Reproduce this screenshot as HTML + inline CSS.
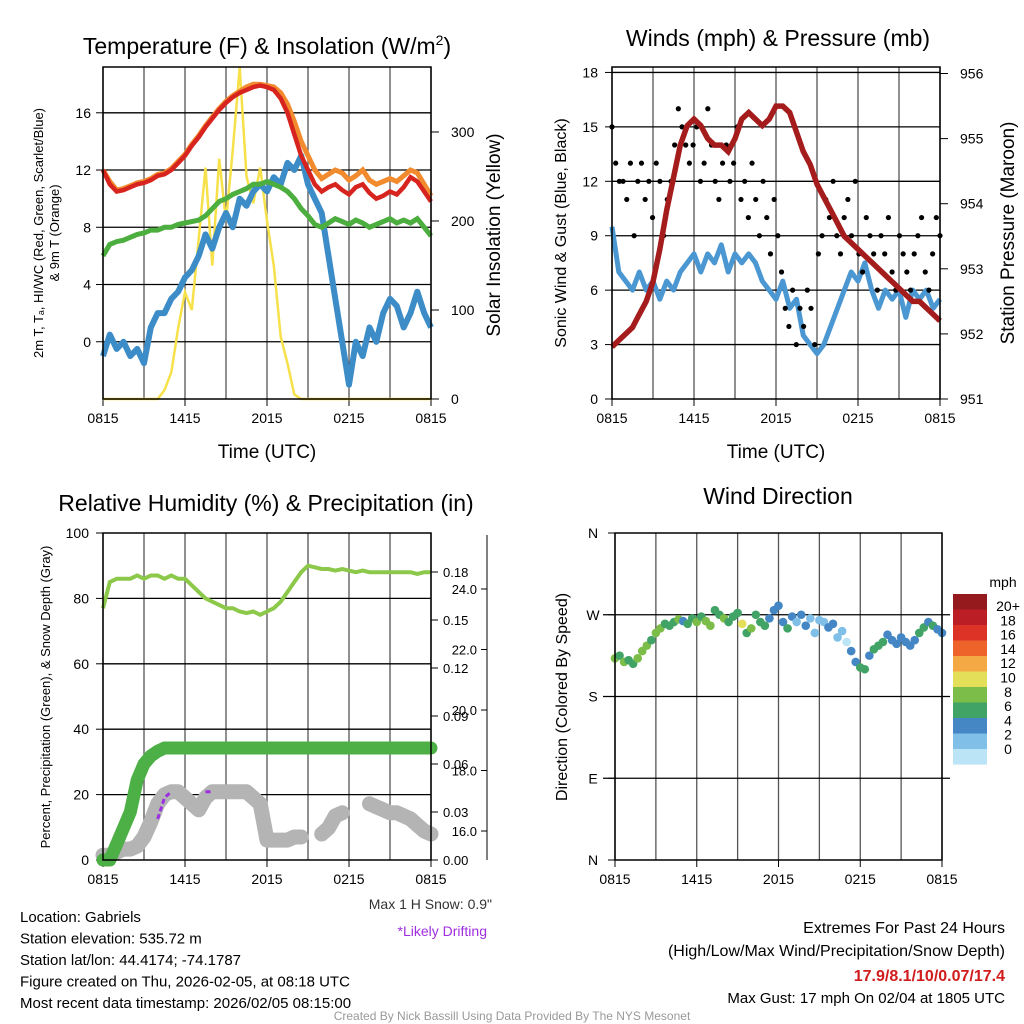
<!DOCTYPE html>
<html><head><meta charset="utf-8"><style>
body{margin:0;background:#fff;}
svg{display:block;font-family:"Liberation Sans",sans-serif;}
</style></head><body>
<svg id="c" width="1024" height="1024" viewBox="0 0 1024 1024"></svg>
<script>
// ---------- DATA (uniformly spaced over 24 h, 0815 -> 0815) ----------
const xTickLabels = ["0815","1415","2015","0215","0815"];
const tempRed = [12,11,10.5,10.6,10.8,11,11.1,11.3,11.6,11.7,12,12.5,13,13.7,14.3,15,15.6,16.2,16.7,17.1,17.4,17.6,17.8,17.9,17.8,17.6,17,16,14.5,13,12,11,10.5,10.8,11,10.6,10.3,10.8,11,10.4,10,10.2,10.5,10.3,10.8,11.5,11.2,10.5,9.8];
const tempOrange = [12,11.2,10.6,10.7,10.9,11.1,11.2,11.4,11.7,11.8,12.1,12.6,13.1,13.8,14.4,15.1,15.7,16.3,16.8,17.2,17.5,17.8,18,18,17.9,17.8,17.4,16.6,15.4,14,13,12,11.4,11.7,12,11.8,11.3,11.6,12,11.3,11,11.2,11.4,11.2,11.6,12,11.8,11,10.2];
const tempGreen = [6,6.8,7,7.1,7.3,7.5,7.6,7.8,7.8,8,8,8.2,8.3,8.4,8.5,8.8,9.3,9.8,10,10.3,10.5,10.7,11,11,11.2,11,10.8,10.5,10,9.3,8.8,8.2,8,8.3,8.6,8.4,8.2,8.5,8.3,8,8.2,8.4,8.6,8.3,8.5,8.3,8.6,8,7.4];
const tempBlue = [-1,0.5,-0.5,0,-1,-0.5,-1.5,1,2,2,3,3.5,4.5,5,6,7.5,6.5,8,9,8,10,9.5,10.5,11,10.5,11.5,11,12.5,12,13,11,10,9,6,3,0,-3,0,-1,1,0,2,3,2.5,1,2,3.5,2,1];
const solar = [0,0,0,0,0,0,0,0,0,10,30,80,120,100,180,260,150,270,200,280,373,250,220,260,200,150,70,40,5,0,0,0,0,0,0,0,0,0,0,0,0,0,0,0,0,0,0,0,0];
const windSpeed = [9.5,7,6.5,6,7,6,6.5,5.5,6.5,6,7,7.5,8,7,8,7.5,8.5,7,8,7.5,8,7.5,6.5,6,5.5,6.5,5,5.5,3.5,3,2.5,3,4,5,6,7,6.5,7.5,6,5,6,5.5,6,4.5,6,5.5,6,5,5.5];
const gusts = [15,13,12,12,11,13,9,12,13,11,12,10,13,12,9,11,12,14,16,15,14,13,14,15,12,13,16,14,12,11,13,14,12,13,15,11,12,10,13,11,9,12,10,8,11,9,7,5,4,6,3,5,4,6,5,3,8,9,11,10,12,9,8,10,11,9,12,8,7,10,9,8,6,9,8,10,7,6,9,8,7,6,8,9,10,7,6,8,10,9];
const pressure = [951.8,951.9,952,952.1,952.3,952.5,952.8,953.3,953.9,954.4,954.9,955.2,955.3,955.2,955,954.9,954.9,954.8,955,955.3,955.4,955.3,955.2,955.3,955.5,955.5,955.4,955.1,954.8,954.6,954.3,954.1,953.9,953.7,953.5,953.4,953.3,953.2,953.1,953,952.9,952.8,952.7,952.6,952.5,952.5,952.4,952.3,952.2];
const humidity = [77,85,86,86,86,87,86,87,87,86,87,86,86,84,82,80,79,78,77,77,76,75.5,76,75,76,77,79,82,85,88,90,89.5,89,89,88.5,89,88.5,88,88.5,88,88,88,88,88,88,88,87.5,88,88];
const precip = [0,0,0.01,0.02,0.03,0.05,0.06,0.065,0.068,0.07,0.07,0.07,0.07,0.07,0.07,0.07,0.07,0.07,0.07,0.07,0.07,0.07,0.07,0.07,0.07,0.07,0.07,0.07,0.07,0.07,0.07,0.07,0.07,0.07,0.07,0.07,0.07,0.07,0.07,0.07,0.07,0.07,0.07,0.07,0.07,0.07,0.07,0.07,0.07];
const snowDepth = [15.2,15.2,15.3,15.4,15.4,15.5,15.8,16.3,16.9,17.2,17.3,17.3,17.1,16.9,16.7,17.1,17.3,17.3,17.3,17.3,17.3,17.3,17.1,16.9,15.7,15.7,15.7,15.7,15.8,15.8,null,null,15.9,16.1,16.5,16.6,null,null,null,16.9,16.8,16.7,16.6,16.6,16.5,16.4,16.2,16.0,15.9];
const drifting = [null,null,null,null,null,null,null,null,16.4,17.1,17.3,null,null,null,null,17.3,17.3,null,null,null,null,null,null,null,null,null,null,null,null,null,null,null,null,null,null,null,null,null,null,null,null,null,null,null,null,null,null,null,null];
const windDir = [222,225,218,220,216,222,230,236,242,250,255,260,258,262,265,263,260,266,262,268,263,258,275,270,266,262,268,272,260,250,255,270,262,258,266,275,280,262,255,268,262,270,258,266,250,264,262,256,260,245,252,240,230,218,212,210,225,232,236,240,248,242,238,245,240,236,242,250,256,262,258,254,250];
const dirSpeed = [9,7,8,7,6,8,9,8,7,9,8,7,6,7,8,5,6,7,8,7,8,9,7,6,8,7,6,7,10,7,8,6,7,6,5,4,5,4,6,5,3,4,5,3,2,3,3,4,5,2,3,1,4,5,6,7,5,6,7,6,5,4,5,4,4,5,4,6,7,5,6,4,5];
const cbLabels = ["20+","18","16","14","12","10","8","6","4","2","0"];
const cbColors = ["#951a1d","#bb1e25","#dc3326","#ee6329","#f5a945","#e4df58","#7cbc48","#41a466","#4487c4","#80bfe8","#bce4f7"];
const dirLabels = ["N","E","S","W","N"];

// ---------- helpers ----------
const svg = document.getElementById('c');
const NS = 'http://www.w3.org/2000/svg';
function el(tag, attrs, parent){const e=document.createElementNS(NS,tag);for(const k in attrs)e.setAttribute(k,attrs[k]);(parent||svg).appendChild(e);return e;}
function txt(x,y,s,size,anchor,fill,parent,name,extra){const t=el('text',Object.assign({x:x,y:y,'font-size':size,'text-anchor':anchor||'start',fill:fill||'#000'},extra||{}),parent);t.textContent=s;


return t;}
function tOf(i,n){return i*24/(n-1);}
function lin(d0,d1,r0,r1){return v=>r0+(v-d0)*(r1-r0)/(d1-d0);}
function linePath(arr,xs,ys){let d='',pen=false;arr.forEach((v,i)=>{if(v===null){pen=false;return;}d+=(pen?'L':'M')+xs(tOf(i,arr.length)).toFixed(1)+','+ys(v).toFixed(1);pen=true;});return d;}

function frame(x0,y0,x1,y1,name){
  const g=el('g',{});
  
  
  for(let k=0;k<=8;k++){const x=x0+(x1-x0)*k/8;el('line',{x1:x,y1:y0,x2:x,y2:y1,stroke:'#555','stroke-width':1.3},g);}
  const xs=lin(0,24,x0,x1);
  xTickLabels.forEach((l,k)=>{const x=x0+(x1-x0)*k/4;el('line',{x1:x,y1:y1,x2:x,y2:y1+7,stroke:'#000'},g);txt(x,y1+24,l,14,'middle','#000',g,'x-tick-label');});
  return {g,xs};
}
function box(x0,y0,x1,y1,g){el('rect',{x:x0,y:y0,width:x1-x0,height:y1-y0,fill:'none',stroke:'#000','stroke-width':1.5},g);}

// ---------- Panel 1: Temperature ----------
(function(){
  const X0=103,Y0=67,X1=431,Y1=399;
  const {g,xs}=frame(X0,Y0,X1,Y1,'temperature-panel');
  const yT=lin(-4,19.2,Y1,Y0), yS=lin(0,373,Y1,Y0);
  [0,4,8,12,16].forEach(v=>{el('line',{x1:X0,y1:yT(v),x2:X1,y2:yT(v),stroke:'#000','stroke-width':1.3},g);el('line',{x1:X0-7,y1:yT(v),x2:X0,y2:yT(v),stroke:'#000'},g);txt(X0-12,yT(v)+5,String(v),14,'end','#000',g,'y-tick-label');});
  [0,100,200,300].forEach(v=>{el('line',{x1:X1,y1:yS(v),x2:X1+8,y2:yS(v),stroke:'#000'},g);txt(X1+20,yS(v)+5,String(v),14,'start','#000',g,'y2-tick-label');});
  const s=el('path',{d:linePath(solar,xs,yS),fill:'none',stroke:'#f7e14a','stroke-width':2.5},g);
  
  
  const b=el('path',{d:linePath(tempBlue,xs,yT),fill:'none',stroke:'#3c8cc8','stroke-width':6,'stroke-linejoin':'round'},g);
  
  
  const gr=el('path',{d:linePath(tempGreen,xs,yT),fill:'none',stroke:'#4cae3e','stroke-width':5},g);
  
  
  const o=el('path',{d:linePath(tempOrange,xs,yT),fill:'none',stroke:'#f28a2e','stroke-width':5},g);
  
  
  const r=el('path',{d:linePath(tempRed,xs,yT),fill:'none',stroke:'#d7241f','stroke-width':4.5},g);
  
  
  box(X0,Y0,X1,Y1,g);
  const tt=txt(267,54,'Temperature (F) & Insolation (W/m',23,'middle','#000',g,'chart-title');
  const sup=el('tspan',{'font-size':14,dy:-9},tt);sup.textContent='2';
  const cl=el('tspan',{'font-size':23,dy:9},tt);cl.textContent=')';
  txt(267,458,'Time (UTC)',19,'middle','#000',g,'x-axis-title');
  const yl=el('text',{transform:'translate(43,233) rotate(-90)','font-size':13,'text-anchor':'middle'},g);
  
  
  yl.textContent='2m T, T\u2090, HI/WC (Red, Green, Scarlet/Blue)';
  const yl2=el('text',{transform:'translate(59,233) rotate(-90)','font-size':13,'text-anchor':'middle'},g);
  
  
  yl2.textContent='& 9m T (Orange)';
  const yr=el('text',{transform:'translate(500,235) rotate(-90)','font-size':19,'text-anchor':'middle'},g);
  
  
  yr.textContent='Solar Insolation (Yellow)';
})();

// ---------- Panel 2: Winds ----------
(function(){
  const X0=612,Y0=67,X1=940,Y1=399;
  const {g,xs}=frame(X0,Y0,X1,Y1,'winds-panel');
  const yW=lin(0,18.3,Y1,Y0), yP=lin(951,956.1,Y1,Y0);
  [3,6,9,12,15,18].forEach(v=>{el('line',{x1:X0,y1:yW(v),x2:X1,y2:yW(v),stroke:'#000','stroke-width':1.3},g);});
  [0,3,6,9,12,15,18].forEach(v=>{el('line',{x1:X0-7,y1:yW(v),x2:X0,y2:yW(v),stroke:'#000'},g);txt(X0-14,yW(v)+5,String(v),14,'end','#000',g,'y-tick-label');});
  [951,952,953,954,955,956].forEach(v=>{el('line',{x1:X1,y1:yP(v),x2:X1+8,y2:yP(v),stroke:'#000'},g);txt(X1+20,yP(v)+5,String(v),14,'start','#000',g,'y2-tick-label');});
  const w=el('path',{d:linePath(windSpeed,xs,yW),fill:'none',stroke:'#4a97d2','stroke-width':5,'stroke-linejoin':'round'},g);
  
  
  gusts.forEach((v,i)=>{const c=el('circle',{cx:xs(tOf(i,gusts.length)),cy:yW(v),r:2.6,fill:'#000'},g);
    
    });
  const p=el('path',{d:linePath(pressure,xs,yP),fill:'none',stroke:'#a51c1c','stroke-width':5.5},g);
  
  
  box(X0,Y0,X1,Y1,g);
  txt(778,46,'Winds (mph) & Pressure (mb)',23,'middle','#000',g,'chart-title');
  txt(776,458,'Time (UTC)',19,'middle','#000',g,'x-axis-title');
  const yl=el('text',{transform:'translate(566,233) rotate(-90)','font-size':16,'text-anchor':'middle'},g);
  
  
  yl.textContent='Sonic Wind & Gust (Blue, Black)';
  const yr=el('text',{transform:'translate(1014,233) rotate(-90)','font-size':19,'text-anchor':'middle'},g);
  
  
  yr.textContent='Station Pressure (Maroon)';
})();

// ---------- Panel 3: RH & Precip ----------
(function(){
  const X0=103,Y0=533,X1=431,Y1=860;
  const {g,xs}=frame(X0,Y0,X1,Y1,'humidity-panel');
  const yH=lin(0,100,Y1,Y0), yPr=lin(0,0.18,Y1,572), ySn=lin(16,24,831,589);
  [20,40,60,80].forEach(v=>{el('line',{x1:X0,y1:yH(v),x2:X1,y2:yH(v),stroke:'#000','stroke-width':1.3},g);});
  [0,20,40,60,80,100].forEach(v=>{el('line',{x1:X0-7,y1:yH(v),x2:X0,y2:yH(v),stroke:'#000'},g);txt(X0-14,yH(v)+5,String(v),14,'end','#000',g,'y-tick-label');});
  [0,0.03,0.06,0.09,0.12,0.15,0.18].forEach(v=>{el('line',{x1:X1,y1:yPr(v),x2:X1+7,y2:yPr(v),stroke:'#000'},g);txt(X1+12,yPr(v)+5,v.toFixed(2),13,'start','#000',g,'precip-tick-label');});
  el('line',{x1:487,y1:535,x2:487,y2:860,stroke:'#000'},g);
  [16,18,20,22,24].forEach(v=>{el('line',{x1:487,y1:ySn(v),x2:481,y2:ySn(v),stroke:'#000'},g);txt(477,ySn(v)+5,v.toFixed(1),13,'end','#000',g,'snow-tick-label');});
  const sn=el('path',{d:linePath(snowDepth,xs,ySn),fill:'none',stroke:'#b4b4b4','stroke-width':15,'stroke-linecap':'round','stroke-linejoin':'round'},g);
  
  
  const dr=el('path',{d:linePath(drifting,xs,ySn),fill:'none',stroke:'#9b30e0','stroke-width':3,'stroke-dasharray':'5 3'},g);
  
  
  const pr=el('path',{d:linePath(precip,xs,yPr),fill:'none',stroke:'#4cb046','stroke-width':13,'stroke-linecap':'round','stroke-linejoin':'round'},g);
  
  
  const h=el('path',{d:linePath(humidity,xs,yH),fill:'none',stroke:'#8cc84a','stroke-width':4},g);
  
  
  box(X0,Y0,X1,Y1,g);
  txt(266,511,'Relative Humidity (%) & Precipitation (in)',23,'middle','#000',g,'chart-title');
  const yl=el('text',{transform:'translate(50,697) rotate(-90)','font-size':13,'text-anchor':'middle'},g);
  
  
  yl.textContent='Percent, Precipitation (Green), & Snow Depth (Gray)';
  txt(492,909,'Max 1 H Snow: 0.9"',14,'end','#333',g,'max-snow-note');
  txt(487,936,'*Likely Drifting',14,'end','#a02ee0',g,'drifting-note');
})();

// ---------- Panel 4: Wind Direction ----------
(function(){
  const X0=615,Y0=533,X1=942,Y1=860;
  const {g,xs}=frame(X0,Y0,X1,Y1,'wind-direction-panel');
  const yD=lin(0,360,Y1,Y0);
  [90,180,270].forEach(v=>{el('line',{x1:X0-12,y1:yD(v),x2:X1+8,y2:yD(v),stroke:'#000','stroke-width':1.3},g);});
  dirLabels.forEach((l,k)=>{const v=k*90;el('line',{x1:X0-7,y1:yD(v),x2:X0,y2:yD(v),stroke:'#000'},g);txt(X0-22,yD(v)+5,l,14,'middle','#000',g,'direction-tick-label');});
  windDir.forEach((v,i)=>{const sp=dirSpeed[i];const idx=Math.max(0,10-Math.min(10,Math.floor(sp/2)));
    const c=el('circle',{cx:xs(tOf(i,windDir.length)),cy:yD(v),r:4.3,fill:cbColors[idx]},g);
    
    });
  box(X0,Y0,X1,Y1,g);
  txt(778,504,'Wind Direction',23,'middle','#000',g,'chart-title');
  const yl=el('text',{transform:'translate(567,697) rotate(-90)','font-size':16,'text-anchor':'middle'},g);
  
  
  yl.textContent='Direction (Colored By Speed)';
  const cb=el('g',{},g);
  
  
  cbColors.forEach((c,k)=>{el('rect',{x:953,y:594+k*15.5,width:34,height:15.6,fill:c},cb);});
  txt(1003,587,'mph',14,'middle','#000',cb,'colorbar-title');
  cbLabels.forEach((l,k)=>{txt(1008,611+k*14.3,l,14,'middle','#000',cb,'colorbar-label');});
})();

// ---------- Footer text ----------
const info=["Location: Gabriels","Station elevation: 535.72 m","Station lat/lon: 44.4174; -74.1787","Figure created on Thu, 2026-02-05, at 08:18 UTC","Most recent data timestamp: 2026/02/05 08:15:00"];
info.forEach((s,k)=>txt(20,922+k*21.5,s,15,'start','#000',null,'station-info-line'));
txt(1005,933,'Extremes For Past 24 Hours',16,'end','#000',null,'extremes-title');
txt(1005,956,'(High/Low/Max Wind/Precipitation/Snow Depth)',16,'end','#000',null,'extremes-subtitle');
txt(1005,981,'17.9/8.1/10/0.07/17.4',16,'end','#d01c1c',null,'extremes-values',{'font-weight':'bold'});
txt(1005,1003,'Max Gust: 17 mph On 02/04 at 1805 UTC',15,'end','#000',null,'max-gust-note');
txt(512,1020,'Created By Nick Bassill Using Data Provided By The NYS Mesonet',12,'middle','#999',null,'credit-line');
</script>
</body></html>
